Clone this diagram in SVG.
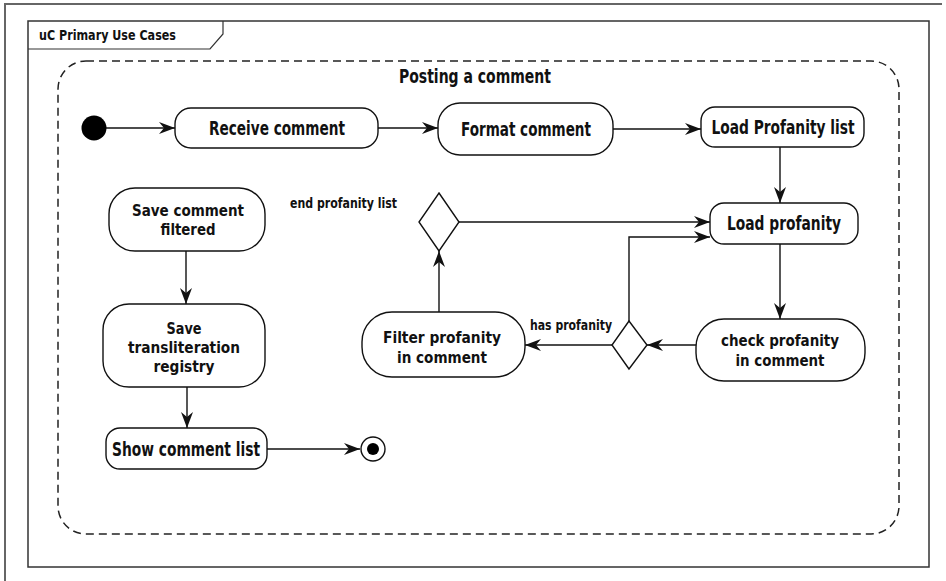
<svg xmlns="http://www.w3.org/2000/svg" width="946" height="581" viewBox="0 0 946 581">
<defs>
<style>
.t{font-family:"Liberation Sans Narrow","DejaVu Sans Condensed",sans-serif;font-size:19px;font-weight:bold;fill:#111;text-anchor:middle}
.m{font-family:"Liberation Sans Narrow","DejaVu Sans Condensed",sans-serif;font-size:16px;font-weight:bold;fill:#111;text-anchor:middle}
.s{font-family:"Liberation Sans Narrow","DejaVu Sans Condensed",sans-serif;font-size:14px;font-weight:bold;fill:#111}
.n{fill:#fff;stroke:#111;stroke-width:1.4}
.c{fill:none;stroke:#111;stroke-width:1.4}
</style>
<marker id="arr" viewBox="0 0 16 12" refX="16" refY="6" markerWidth="16" markerHeight="12" orient="auto" markerUnits="userSpaceOnUse"><path d="M0,0 L16,6 L0,12 L5,6 Z" fill="#111"/></marker>
</defs>
<rect width="946" height="581" fill="#fff"/>
<path d="M5,581 L5,4 L942,4" fill="none" stroke="#666" stroke-width="2"/>
<g id="frame">
<rect x="28" y="21" width="901" height="546" fill="none" stroke="#333" stroke-width="1.5"/>
<path d="M28,49 L210,49 L223,34 L223,21" fill="none" stroke="#333" stroke-width="1.2"/>
<text class="s" x="39" y="40" textLength="137" lengthAdjust="spacingAndGlyphs">uC Primary Use Cases</text>
</g>
<g id="region">
<rect x="58" y="61" width="841" height="473" rx="28" fill="none" stroke="#222" stroke-width="1.5" stroke-dasharray="8,5"/>
<text class="t" x="475" y="83" textLength="152" lengthAdjust="spacingAndGlyphs">Posting a comment</text>
</g>
<g id="connectors">
<path class="c" d="M106,128 L175,128" marker-end="url(#arr)"/>
<path class="c" d="M378,128 L438,128" marker-end="url(#arr)"/>
<path class="c" d="M613,129 L701,129" marker-end="url(#arr)"/>
<path class="c" d="M780,147 L780,203" marker-end="url(#arr)"/>
<path class="c" d="M780,244 L780,319" marker-end="url(#arr)"/>
<path class="c" d="M696,345 L647,345" marker-end="url(#arr)"/>
<path class="c" d="M612,345 L525,345" stroke-width="2" marker-end="url(#arr)"/>
<path class="c" d="M629,321 L629,237 L710,237" marker-end="url(#arr)"/>
<path class="c" d="M439,312 L439,251" marker-end="url(#arr)"/>
<path class="c" d="M459,222 L710,222" marker-end="url(#arr)"/>
<path class="c" d="M186,251 L186,304" marker-end="url(#arr)"/>
<path class="c" d="M187,387 L187,428" marker-end="url(#arr)"/>
<path class="c" d="M267,449 L360,449" marker-end="url(#arr)"/>
<text class="s" x="530" y="330" textLength="82" lengthAdjust="spacingAndGlyphs">has profanity</text>
<text class="s" x="290" y="208" textLength="107" lengthAdjust="spacingAndGlyphs">end profanity list</text>
</g>
<g id="initial"><circle cx="94" cy="128" r="12.5" fill="#000"/></g>
<g id="final"><circle cx="373" cy="449" r="12" fill="#fff" stroke="#111" stroke-width="1.4"/><circle cx="373" cy="449" r="6" fill="#000"/></g>
<g id="receive"><rect class="n" x="175" y="108" width="203" height="40" rx="16"/><text class="t" x="277" y="135" textLength="136" lengthAdjust="spacingAndGlyphs">Receive comment</text></g>
<g id="format"><rect class="n" x="438" y="103" width="175" height="52" rx="22"/><text class="t" x="526" y="136" textLength="130" lengthAdjust="spacingAndGlyphs">Format comment</text></g>
<g id="loadlist"><rect class="n" x="701" y="107" width="163" height="40" rx="14"/><text class="t" x="783" y="134" textLength="143" lengthAdjust="spacingAndGlyphs">Load Profanity list</text></g>
<g id="loadprof"><rect class="n" x="710" y="203" width="148" height="41" rx="14"/><text class="t" x="784" y="230" textLength="114" lengthAdjust="spacingAndGlyphs">Load profanity</text></g>
<g id="check"><rect class="n" x="696" y="319" width="169" height="62" rx="28"/><text class="m" x="780" y="346" textLength="118" lengthAdjust="spacingAndGlyphs">check profanity</text><text class="m" x="780" y="366" textLength="89" lengthAdjust="spacingAndGlyphs">in comment</text></g>
<g id="decision2"><path class="n" d="M629,321 L647,345 L629,369 L612,345 Z"/></g>
<g id="filter"><rect class="n" x="362" y="312" width="163" height="65" rx="30"/><text class="m" x="442" y="343" textLength="118" lengthAdjust="spacingAndGlyphs">Filter profanity</text><text class="m" x="442" y="363" textLength="90" lengthAdjust="spacingAndGlyphs">in comment</text></g>
<g id="decision1"><path class="n" d="M439,193 L459,222 L439,251 L419,222 Z"/></g>
<g id="savefiltered"><rect class="n" x="109" y="188" width="156" height="63" rx="26"/><text class="m" x="188" y="216" textLength="112" lengthAdjust="spacingAndGlyphs">Save comment</text><text class="m" x="188" y="235" textLength="55" lengthAdjust="spacingAndGlyphs">filtered</text></g>
<g id="savetranslit"><rect class="n" x="103" y="304" width="162" height="83" rx="26"/><text class="m" x="184" y="334" textLength="35" lengthAdjust="spacingAndGlyphs">Save</text><text class="m" x="184" y="353" textLength="112" lengthAdjust="spacingAndGlyphs">transliteration</text><text class="m" x="184" y="372" textLength="61" lengthAdjust="spacingAndGlyphs">registry</text></g>
<g id="showlist"><rect class="n" x="106" y="428" width="161" height="41" rx="14"/><text class="t" x="186" y="456" textLength="148" lengthAdjust="spacingAndGlyphs">Show comment list</text></g>
</svg>
